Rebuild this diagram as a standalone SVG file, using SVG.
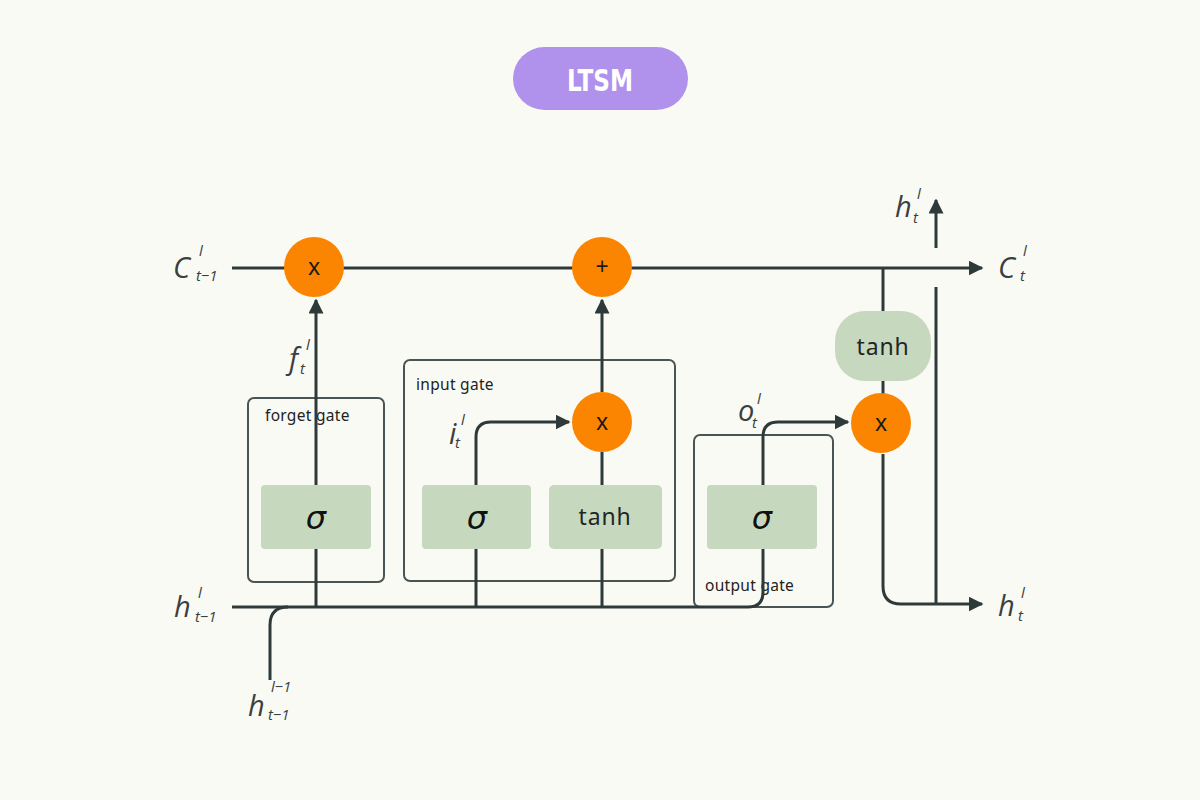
<svg xmlns="http://www.w3.org/2000/svg" width="1200" height="800" viewBox="0 0 1200 800">
<defs>
<marker id="arr" viewBox="0 0 10 10" refX="9" refY="5" markerWidth="5" markerHeight="5" markerUnits="strokeWidth" orient="auto">
<path d="M0,0 L10,5 L0,10 z" fill="#2e3a3a"/>
</marker>
<style>
.ln{fill:none;stroke:#2e3a3a;stroke-width:3;stroke-linecap:butt}
.gate{fill:none;stroke:#4a5454;stroke-width:2}
.op{fill:#fb8500}
.act{fill:#c6d9be}
.opt{font-family:"Noto Sans","DejaVu Sans",sans-serif;font-size:23px;fill:#1a1a1a;text-anchor:middle}
.gl{font-family:"Noto Sans","DejaVu Sans",sans-serif;font-size:15.5px;letter-spacing:0.3px;fill:#222}
.sig{font-family:"DejaVu Sans",sans-serif;font-style:italic;font-size:32px;fill:#111;text-anchor:middle}
.tanh{font-family:"Noto Sans","DejaVu Sans",sans-serif;font-size:23px;letter-spacing:0.8px;fill:#1e2626;text-anchor:middle}
.m{font-family:"Open Sans","DejaVu Sans",sans-serif;font-style:italic;fill:#3a3f40}
.big{font-size:29px}
.sm{font-size:15px}
</style>
</defs>
<rect width="1200" height="800" fill="#fafaf4"/>

<g id="title">
<rect x="513" y="47" width="175" height="63" rx="31.5" fill="#b091ec"/>
<text x="600" y="91" font-family="DejaVu Sans" font-weight="bold" font-stretch="condensed" font-size="30" fill="#ffffff" text-anchor="middle" textLength="66" lengthAdjust="spacingAndGlyphs">LTSM</text>
</g>

<g id="forget-gate">
<rect class="gate" x="248" y="398" width="136" height="184" rx="6"/>
<text class="gl" x="265" y="421">forget gate</text>
</g>
<g id="input-gate">
<rect class="gate" x="404" y="360" width="271" height="221" rx="6"/>
<text class="gl" x="416" y="390">input gate</text>
</g>
<g id="output-gate">
<rect class="gate" x="694" y="435" width="139" height="172" rx="6"/>
<text class="gl" x="705" y="591">output gate</text>
</g>

<g id="connectors">
<path class="ln" d="M232,268 H982" marker-end="url(#arr)"/>
<path class="ln" d="M232,607 H748 Q763,607 763,592 V437 Q763,422 778,422 H848" marker-end="url(#arr)"/>
<path class="ln" d="M270,680 V625 Q270,607 288,607"/>
<path class="ln" d="M316,607 V300" marker-end="url(#arr)"/>
<path class="ln" d="M476,607 V437 Q476,422 491,422 H569" marker-end="url(#arr)"/>
<path class="ln" d="M602,607 V452"/>
<path class="ln" d="M602,392 V300" marker-end="url(#arr)"/>
<path class="ln" d="M883,268 V313"/>
<path class="ln" d="M883,380 V394"/>
<path class="ln" d="M883,454 V586 Q883,604 901,604 H982" marker-end="url(#arr)"/>
<path class="ln" d="M936,604 V287"/>
<path class="ln" d="M936,248 V200" marker-end="url(#arr)"/>
</g>

<g id="forget-mult">
<circle class="op" cx="314" cy="267" r="30"/>
<text class="opt" x="314" y="275">x</text>
</g>
<g id="add">
<circle class="op" cx="602" cy="267" r="30"/>
<text class="opt" x="602" y="275">+</text>
</g>
<g id="input-mult">
<circle class="op" cx="602" cy="422" r="30"/>
<text class="opt" x="602" y="430">x</text>
</g>
<g id="output-mult">
<circle class="op" cx="881" cy="423" r="30"/>
<text class="opt" x="881" y="431">x</text>
</g>

<g id="forget-sigma">
<rect class="act" x="261" y="485" width="110" height="64" rx="4"/>
<text class="sig" x="316" y="529">σ</text>
</g>
<g id="input-sigma">
<rect class="act" x="422" y="485" width="109" height="64" rx="4"/>
<text class="sig" x="477" y="529">σ</text>
</g>
<g id="input-tanh">
<rect class="act" x="549" y="485" width="113" height="64" rx="5"/>
<text class="tanh" x="605" y="525">tanh</text>
</g>
<g id="output-sigma">
<rect class="act" x="707" y="485" width="110" height="64" rx="4"/>
<text class="sig" x="762" y="529">σ</text>
</g>
<g id="cell-tanh">
<rect class="act" x="835" y="311" width="96" height="70" rx="30"/>
<text class="tanh" x="883" y="355">tanh</text>
</g>

<g id="labels">
<text class="m big" x="173" y="278">C</text><text class="m sm" x="199" y="256">l</text><text class="m sm" x="196" y="281">t−1</text>
<text class="m big" x="998" y="278">C</text><text class="m sm" x="1023" y="256">l</text><text class="m sm" x="1020" y="281">t</text>
<text class="m big" x="174" y="617">h</text><text class="m sm" x="198" y="598">l</text><text class="m sm" x="195" y="622">t−1</text>
<text class="m big" x="248" y="716">h</text><text class="m sm" x="271" y="692">l−1</text><text class="m sm" x="268" y="720">t−1</text>
<text class="m big" x="289" y="369">f</text><text class="m sm" x="306" y="350">l</text><text class="m sm" x="300" y="374">t</text>
<text class="m big" x="449" y="444">i</text><text class="m sm" x="461" y="425">l</text><text class="m sm" x="455" y="448">t</text>
<text class="m big" x="738" y="421">o</text><text class="m sm" x="757" y="404">l</text><text class="m sm" x="752" y="428">t</text>
<text class="m big" x="895" y="217">h</text><text class="m sm" x="917" y="199">l</text><text class="m sm" x="913" y="223">t</text>
<text class="m big" x="998" y="616">h</text><text class="m sm" x="1021" y="598">l</text><text class="m sm" x="1018" y="621">t</text>
</g>
</svg>
